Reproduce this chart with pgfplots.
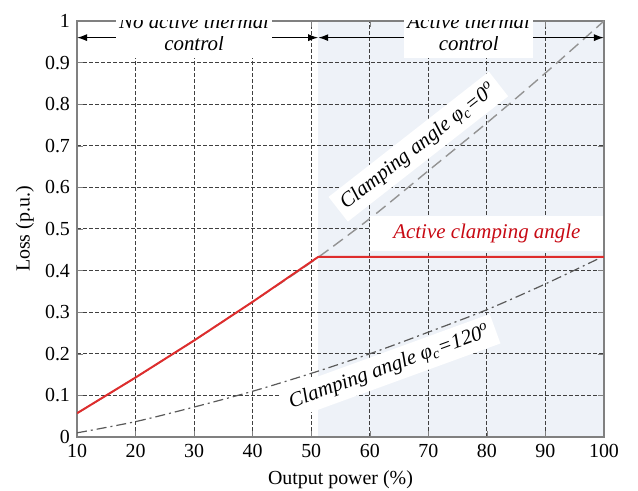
\documentclass[border=0pt]{standalone}
\usepackage{fontspec}
\setmainfont{Liberation Serif}
\usepackage{pgfplots}
\pgfplotsset{compat=1.18}
\usetikzlibrary{arrows.meta}

\definecolor{shade}{RGB}{238,242,248}
\definecolor{myred}{RGB}{222,45,45}
\definecolor{txtred}{RGB}{200,10,20}

\tikzset{toplab/.style={fill=white, inner xsep=1.5bp, inner ysep=1.5bp, text height=8bp, text depth=2.5bp, anchor=base, font=\itshape\fontsize{10.5}{12}\selectfont}}

\begin{document}
\begin{tikzpicture}
\begin{axis}[
 set layers,
 at={(0,0)}, anchor=south west,
 scale only axis, width=263.5bp, height=208bp,
 xmin=10, xmax=100, ymin=0, ymax=1,
 xtick={10,20,30,40,50,60,70,80,90,100},
 xticklabels={10,20,30,40,50,60,70,80,90,100},
 ytick={0,0.1,0.2,0.3,0.4,0.5,0.6,0.7,0.8,0.9,1},
 yticklabels={0,0.1,0.2,0.3,0.4,0.5,0.6,0.7,0.8,0.9,1},
 grid=major,
 grid style={dash pattern=on 2bp off 1bp, black!75, line width=0.5pt},
 axis line style={gray, line width=0.8pt},
 tick style={gray},
 tick align=inside,
 major tick length=3bp,
 /pgf/number format/assume math mode=true,
 tick label style={font=\fontsize{10}{12}\selectfont},
 label style={font=\fontsize{10}{12}\selectfont},
 xlabel={Output power (\%)},
 ylabel={Loss (p.u.)},
 every axis x label/.append style={at={(axis description cs:0.5,0)}, anchor=center, yshift=-21.5bp},
 every axis y label/.append style={at={(axis description cs:-0.099,0.5)}, anchor=center},
]
% shaded region (active thermal control)
\addplot[fill=shade, draw=none, on layer=axis background] coordinates {(51.2,0) (51.2,1) (100,1) (100,0)} -- cycle;

% clamping angle 0
\addplot[gray!85, dash pattern=on 6bp off 3bp, line width=0.7pt, smooth] coordinates {
(10,0.057) (20,0.143) (30,0.232) (40,0.325) (50,0.42) (60,0.525) (70,0.64) (80,0.755) (90,0.875) (100,1.0)};

% clamping angle 120
\addplot[black!65, dash pattern=on 5bp off 2bp on 1bp off 2bp, line width=0.6pt, smooth] coordinates {
(10,0.01) (20,0.037) (30,0.072) (40,0.11) (50,0.153) (60,0.2) (70,0.252) (80,0.306) (90,0.368) (100,0.435)};

% active clamping angle
\addplot[myred, line width=1pt] coordinates {
(10,0.057) (20,0.143) (30,0.232) (40,0.325) (51.2,0.433) (100,0.433)};

% top annotations
\draw[{Latex[length=5bp,width=3.5bp]}-{Latex[length=5bp,width=3.5bp]}, line width=0.6pt] (axis cs:10,0.96) -- (axis cs:51.2,0.96);
\draw[{Latex[length=5bp,width=3.5bp]}-{Latex[length=5bp,width=3.5bp]}, line width=0.6pt] (axis cs:51.2,0.96) -- (axis cs:100,0.96);
\node[toplab] at (axis cs:30,0.93) {\ooalign{\hphantom{No active thermal}\cr\hfil control\hfil\cr}};
\node[toplab] at (axis cs:30,0.982) {No active thermal};
\node[toplab] at (axis cs:76.9,0.93) {\ooalign{\hphantom{Active thermal}\cr\hfil control\hfil\cr}};
\node[toplab] at (axis cs:76.9,0.982) {Active thermal};

% curve labels
\node[fill=white, rotate=38, inner sep=3bp, font=\itshape\fontsize{10.5}{12}\selectfont] at (axis cs:68.3,0.698) {Clamping angle φ\textsubscript{c}=0\textsuperscript{o}};
\node[fill=white, rotate=20, inner sep=3bp, font=\itshape\fontsize{10.5}{12}\selectfont] at (axis cs:63.4,0.168) {Clamping angle φ\textsubscript{c}=120\textsuperscript{o}};
\node[fill=white, inner xsep=11.5bp, inner ysep=4bp, text=txtred, font=\itshape\fontsize{10.5}{12}\selectfont] at (axis cs:80,0.49) {Active clamping angle};
\end{axis}
\pgfresetboundingbox
\path[use as bounding box] (-38.5bp,-27bp) rectangle (280.5bp,218.5bp);
\end{tikzpicture}
\end{document}
